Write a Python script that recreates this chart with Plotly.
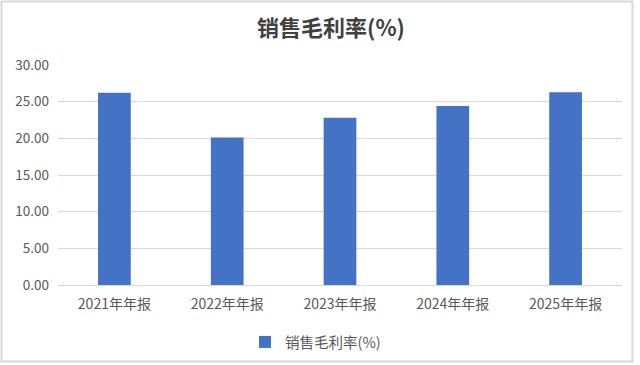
import plotly.graph_objects as go

categories = ["2021年年报", "2022年年报", "2023年年报", "2024年年报", "2025年年报"]
values = [26.2, 20.1, 22.8, 24.4, 26.3]
series_name = "销售毛利率(%)"
title_text = "销售毛利率(%)"

W, H = 640, 365
L, R, T, B = 58, 18, 65, 80
pw, ph = W - L - R, H - T - B

fig = go.Figure()
fig.add_trace(go.Bar(
    x=categories, y=values, name=series_name,
    marker=dict(color="#4472C4", line=dict(width=0)),
    showlegend=True,
))

def px2x(px):
    return (px - L) / pw

def py2y(py):
    return 1 - (py - T) / ph

fig.update_layout(
    width=W, height=H,
    margin=dict(l=L, r=R, t=T, b=B, autoexpand=False),
    paper_bgcolor="white", plot_bgcolor="white",
    font=dict(family="Noto Sans CJK SC, sans-serif", color="#595959", size=13),
    title=dict(text="<b>" + title_text + "</b>", x=331 / W, xanchor="center",
               y=1 - 28 / H, yanchor="middle",
               font=dict(size=22, color="#404040", family="Noto Sans CJK SC, sans-serif")),
    bargap=0.71,
    xaxis=dict(showgrid=False, showline=False, ticks="", ticklabelstandoff=9,
               tickfont=dict(size=14, color="#595959")),
    yaxis=dict(range=[0, 30], dtick=5, tickformat=".2f", showgrid=True, gridcolor="#D9D9D9",
               gridwidth=1, zeroline=True, zerolinecolor="#D9D9D9", zerolinewidth=1,
               showline=False, ticks="", ticklabelstandoff=8,
               tickfont=dict(size=13.5, color="#595959")),
    legend=dict(orientation="h", x=px2x(245), xanchor="left", y=py2y(342), yanchor="middle",
                font=dict(size=14.5, color="#595959"), bgcolor="rgba(0,0,0,0)"),
    shapes=[dict(type="rect", xref="paper", yref="paper",
                 x0=px2x(1.5), x1=px2x(632.5), y0=py2y(1.5), y1=py2y(361.5),
                 line=dict(color="#D9D9D9", width=2), layer="below")],
)

fig.write_html("out.html", config={"displayModeBar": False},
               post_script="document.body.style.margin='0';document.body.style.overflow='hidden';")
